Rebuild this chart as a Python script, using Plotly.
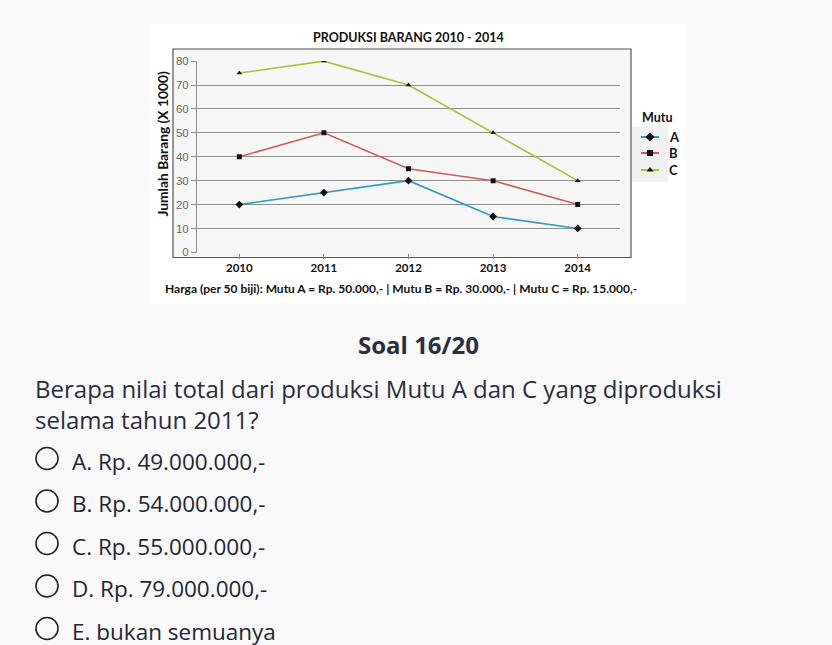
import plotly.graph_objects as go

# ---------------- data ----------------
years = ["2010", "2011", "2012", "2013", "2014"]
mutu_a = [20, 25, 30, 15, 10]
mutu_b = [40, 50, 35, 30, 20]
mutu_c = [75, 80, 70, 50, 30]
series_names = ["A", "B", "C"]
y_ticks = [0, 10, 20, 30, 40, 50, 60, 70, 80]

chart_title = "PRODUKSI BARANG 2010 - 2014"
y_title = "Jumlah Barang (X 1000)"
legend_title = "Mutu"
price_note = "Harga (per 50 biji): Mutu A = Rp. 50.000,- | Mutu B = Rp. 30.000,- | Mutu C = Rp. 15.000,-"
question_no = "Soal 16/20"
question_lines = ["Berapa nilai total dari produksi Mutu A dan C yang diproduksi",
                  "selama tahun 2011?"]
options = ["A. Rp. 49.000.000,-", "B. Rp. 54.000.000,-", "C. Rp. 55.000.000,-",
           "D. Rp. 79.000.000,-", "E. bukan semuanya"]

# ---------------- styling ----------------
W, H = 832, 645
colors = ["#2f9cc4", "#d65a5a", "#9cc93b"]
symbols = ["diamond", "square", "triangle-up"]
msizes = [6, 5, 5]
chart_font = "Lato"


def px(x):
    return x / W


def py(y):
    return 1 - y / H


fig = go.Figure()

for vals, name, col, sym, ms in zip([mutu_a, mutu_b, mutu_c], series_names, colors, symbols, msizes):
    fig.add_trace(go.Scatter(
        x=years, y=vals, name=name, mode="lines+markers",
        line=dict(color=col, width=1.6),
        marker=dict(symbol=sym, size=ms, color="#111111"),
        showlegend=False, xaxis="x", yaxis="y",
    ))

# legend marks drawn on a pixel-coordinate axis covering the whole page
leg_x0, leg_x1 = 641, 659
leg_ys = [137, 153, 170]
for name, col, sym, ms, ly in zip(series_names, colors, symbols, msizes, leg_ys):
    fig.add_trace(go.Scatter(
        x=[leg_x0, leg_x1], y=[ly, ly], mode="lines",
        line=dict(color=col, width=2), showlegend=False, hoverinfo="skip",
        xaxis="x2", yaxis="y2",
    ))
    fig.add_trace(go.Scatter(
        x=[(leg_x0 + leg_x1) / 2], y=[ly], mode="markers",
        marker=dict(symbol=sym, size=ms + 1, color="#111111"), showlegend=False,
        hoverinfo="skip", xaxis="x2", yaxis="y2",
    ))

shapes = []
# chart image white background
shapes.append(dict(type="rect", xref="paper", yref="paper", x0=px(150), x1=px(686),
                   y0=py(304), y1=py(24), fillcolor="white", line=dict(width=0), layer="below"))
# frame
shapes.append(dict(type="rect", xref="paper", yref="paper", x0=px(173), x1=px(631),
                   y0=py(257.5), y1=py(49), fillcolor="#f6f6f6",
                   line=dict(color="#555555", width=1.2), layer="below"))
# legend box
shapes.append(dict(type="rect", xref="paper", yref="paper", x0=px(632), x1=px(668),
                   y0=py(182), y1=py(127), fillcolor="#f1f1f1", line=dict(width=0), layer="below"))
# option radio circles
opt_ys = [458.5, 501, 543.5, 586, 628.5]
for oy in opt_ys:
    r = 11
    shapes.append(dict(type="circle", xref="paper", yref="paper",
                       x0=px(47 - r), x1=px(47 + r), y0=py(oy + r), y1=py(oy - r),
                       line=dict(color="#222222", width=1.6), fillcolor="rgba(0,0,0,0)"))

annotations = []
annotations.append(dict(text="<b>%s</b>" % chart_title, x=px(408), y=py(38), xref="paper", yref="paper",
                        showarrow=False, xanchor="center", yanchor="middle",
                        font=dict(family=chart_font, size=12.5, color="#111111")))
annotations.append(dict(text="<b>%s</b>" % y_title, x=px(161.5), y=py(144), xref="paper", yref="paper",
                        showarrow=False, xanchor="center", yanchor="middle", textangle=-90,
                        font=dict(family=chart_font, size=13.8, color="#111111")))
annotations.append(dict(text="<b>%s</b>" % price_note, x=px(401), y=py(289), xref="paper", yref="paper",
                        showarrow=False, xanchor="center", yanchor="middle",
                        font=dict(family=chart_font, size=12, color="#111111")))
annotations.append(dict(text="<b>%s</b>" % legend_title, x=px(640), y=py(117), xref="paper", yref="paper",
                        showarrow=False, xanchor="left", yanchor="middle",
                        font=dict(family=chart_font, size=12.5, color="#111111")))
for name, ly in zip(series_names, leg_ys):
    annotations.append(dict(text="<b>%s</b>" % name, x=px(667), y=py(ly), xref="paper", yref="paper",
                            showarrow=False, xanchor="left", yanchor="middle",
                            font=dict(family=chart_font, size=13, color="#111111")))

# question text
annotations.append(dict(text="<b>%s</b>" % question_no, x=px(418), y=py(344), xref="paper", yref="paper",
                        showarrow=False, xanchor="center", yanchor="middle",
                        font=dict(family="Open Sans", size=24, color="#2b2d42")))
for i, line in enumerate(question_lines):
    annotations.append(dict(text=line, x=px(33), y=py(388 + 31 * i), xref="paper", yref="paper",
                            showarrow=False, xanchor="left", yanchor="middle",
                            font=dict(family="Open Sans", size=24, color="#2b2d42")))
for opt, oy in zip(options, opt_ys):
    annotations.append(dict(text=opt, x=px(70), y=py(oy + 2.5), xref="paper", yref="paper",
                            showarrow=False, xanchor="left", yanchor="middle",
                            font=dict(family="Open Sans", size=22.5, color="#22253a")))

fig.update_layout(
    template="none",
    width=W, height=H,
    margin=dict(l=0, r=0, t=0, b=0, pad=0, autoexpand=False),
    paper_bgcolor="#f9f9f9",
    plot_bgcolor="rgba(0,0,0,0)",
    showlegend=False,
    shapes=shapes,
    annotations=annotations,
    xaxis=dict(
        type="category", range=[-0.5, 4.5], domain=[px(197), px(620)],
        showgrid=False, zeroline=False, showline=False, automargin=False,
        ticks="outside", ticklen=5, tickcolor="#888888", tickwidth=1,
        tickfont=dict(family=chart_font, size=11.5, color="#111111"),
        tickprefix="<b>", ticksuffix="</b>", anchor="y", fixedrange=True,
    ),
    yaxis=dict(
        range=[-0.05, 80.05], domain=[py(252.5), py(61)],
        tickvals=y_ticks, showgrid=True, gridcolor="#8e8e8e", gridwidth=1,
        zeroline=False, showline=True, linecolor="#8e8e8e", linewidth=1, automargin=False,
        ticks="outside", ticklen=5, tickcolor="#8e8e8e",
        tickfont=dict(family="Liberation Sans", size=11.5, color="#6a6a6a"),
        anchor="x", fixedrange=True,
    ),
    xaxis2=dict(range=[0, W], domain=[0, 1], visible=False, anchor="y2", fixedrange=True, automargin=False),
    yaxis2=dict(range=[H, 0], domain=[0, 1], visible=False, anchor="x2", fixedrange=True, automargin=False),
)

fig.write_html("out.html")
